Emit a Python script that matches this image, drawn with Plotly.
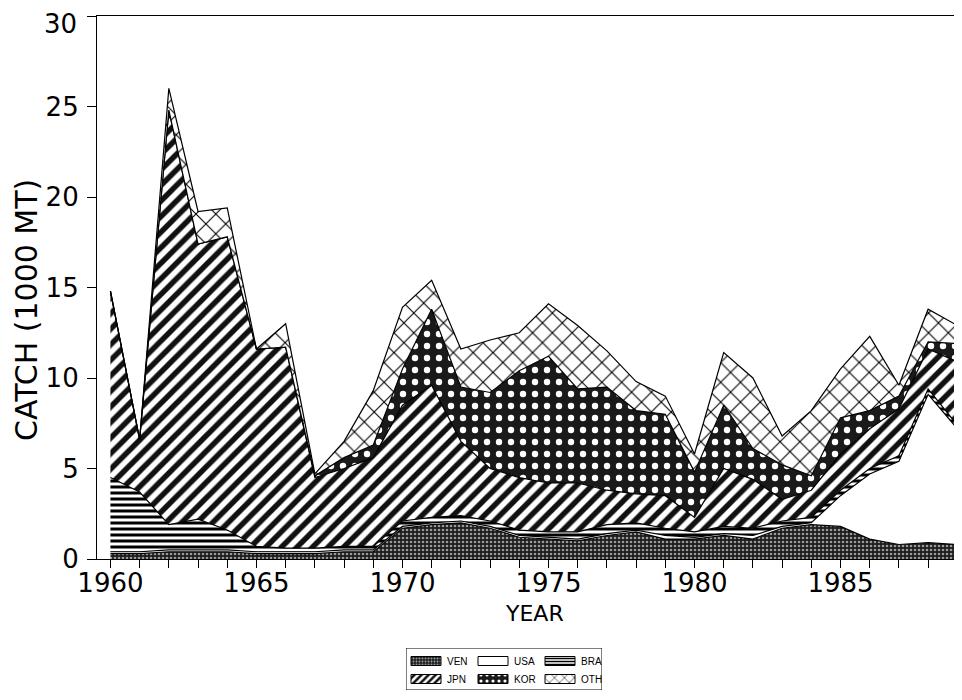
import plotly.graph_objects as go

years = list(range(1960, 1990))
x_ticks = [1960, 1965, 1970, 1975, 1980, 1985]
y_ticks = [0, 5, 10, 15, 20, 25, 30]
y_tick_labels = ["0", "5", "10", "15", "20", "25", "30"]

ven = [0.3, 0.3, 0.4, 0.4, 0.4, 0.3, 0.3, 0.3, 0.4, 0.4,
       1.7, 1.9, 2.0, 1.7, 1.2, 1.1, 1.0, 1.3, 1.5, 1.1,
       1.1, 1.3, 1.1, 1.7, 1.9, 1.8, 1.1, 0.8, 0.9, 0.8]
usa = [0.1, 0.1, 0.1, 0.1, 0.1, 0.1, 0.1, 0.1, 0.1, 0.1,
       0.1, 0.1, 0.1, 0.1, 0.1, 0.1, 0.1, 0.1, 0.1, 0.2,
       0.1, 0.1, 0.2, 0.1, 0.1, 1.7, 3.6, 4.6, 8.2, 6.4]
bra = [4.1, 3.3, 1.4, 1.7, 1.1, 0.3, 0.2, 0.2, 0.2, 0.2,
       0.3, 0.3, 0.3, 0.3, 0.3, 0.3, 0.4, 0.5, 0.4, 0.4,
       0.3, 0.4, 0.4, 0.3, 0.3, 0.3, 0.3, 0.3, 0.3, 0.2]
jpn = [10.3, 2.9, 22.9, 15.2, 16.2, 10.9, 11.1, 3.9, 4.3, 4.9,
       6.4, 7.3, 4.1, 2.9, 2.9, 2.7, 2.7, 1.9, 1.6, 1.8,
       0.8, 3.2, 2.7, 1.2, 1.5, 2.0, 2.2, 2.6, 2.2, 3.5]
kor = [0.0, 0.0, 0.0, 0.0, 0.0, 0.0, 0.0, 0.1, 0.6, 0.7,
       2.0, 4.2, 3.0, 4.2, 5.9, 7.0, 5.2, 5.7, 4.6, 4.5,
       2.5, 3.5, 1.7, 1.9, 0.8, 2.0, 1.0, 0.7, 0.4, 1.0]
oth = [0.0, 0.0, 1.2, 1.8, 1.6, 0.0, 1.3, 0.1, 0.9, 3.0,
       3.4, 1.6, 2.1, 2.9, 2.1, 2.9, 3.5, 2.0, 1.6, 1.0,
       1.0, 2.9, 3.9, 1.6, 3.6, 2.7, 4.1, 0.6, 1.8, 1.0]

series_names = ["VEN", "USA", "BRA", "JPN", "KOR", "OTH"]
series_vals = [ven, usa, bra, jpn, kor, oth]

patterns = {
    "VEN": dict(shape=".", bgcolor="#1c1c1c", fgcolor="#9a9a9a", size=4, solidity=0.35, fillmode="replace"),
    "USA": None,
    "BRA": dict(shape="-", bgcolor="white", fgcolor="black", size=6, solidity=0.5, fillmode="replace"),
    "JPN": dict(shape="/", bgcolor="white", fgcolor="#111111", size=11, solidity=0.5, fillmode="replace"),
    "KOR": dict(shape=".", bgcolor="#1a1a1a", fgcolor="white", size=12, solidity=0.22, fillmode="replace"),
    "OTH": dict(shape="x", bgcolor="white", fgcolor="black", size=14, solidity=0.15, fillmode="replace"),
}


def fill_kw(name, small=False):
    p = patterns[name]
    if p is None:
        return dict(fillcolor="white")
    p = dict(p)
    if small:
        p["size"] = max(3, int(p["size"] * 0.5))
    return dict(fillcolor=p["bgcolor"], fillpattern=p)


# page-pixel helpers (page has an 8px body margin; plot area 97..962 x 16..559)
def px(x):
    return (x - 97) / 865


def py(y):
    return (700 - y) / 684


fig = go.Figure()
for name, vals in zip(series_names, series_vals):
    fig.add_trace(go.Scatter(
        x=years, y=vals, name=name, mode="lines", stackgroup="one",
        line=dict(color="black", width=1.2, shape="linear"),
        showlegend=False, hoverinfo="x+y+name", **fill_kw(name)))

# closing vertical edge at the last year
total = [sum(v) for v in zip(*series_vals)]
fig.add_trace(go.Scatter(x=[years[-1], years[-1]], y=[0, total[-1]], mode="lines",
                         line=dict(color="black", width=1.2), showlegend=False,
                         hoverinfo="skip"))

# key drawn on its own small axes (coordinates = page pixels)
KEY_X0, KEY_X1, KEY_Y0, KEY_Y1 = 406, 602, 648, 690
col_x = [411, 478, 545]
row_y = [661, 679]
annos = []
for i, name in enumerate(series_names):
    r, c = divmod(i, 3)
    x0, x1 = col_x[c], col_x[c] + 30
    y0, y1 = row_y[r] - 4.5, row_y[r] + 4.5
    fig.add_trace(go.Scatter(
        x=[x0, x1, x1, x0, x0], y=[y0, y0, y1, y1, y0], mode="lines",
        fill="toself", line=dict(color="black", width=1), xaxis="x2", yaxis="y2",
        showlegend=False, hoverinfo="skip", name=name, **fill_kw(name, small=True)))
    annos.append(dict(text=name, x=x1 + 4, y=row_y[r], xref="x2", yref="y2",
                      xanchor="left", yanchor="middle", showarrow=False,
                      font=dict(family="Liberation Sans", size=10, color="black")))

FONT = "DejaVu Sans"
# the top tick label would poke above the page; draw it as a text just inside the top edge
y_text = y_tick_labels[:-1] + [""]
annos.append(dict(text=y_tick_labels[-1], x=px(78), y=py(8), xref="paper", yref="paper",
                  xanchor="right", yanchor="top", showarrow=False, borderpad=0,
                  font=dict(family=FONT, size=26, color="black")))

fig.update_layout(
    width=962, height=700,
    margin=dict(l=89, r=8, t=8, b=8, autoexpand=False),
    paper_bgcolor="white", plot_bgcolor="white",
    showlegend=False,
    xaxis=dict(
        domain=[0, 1],
        range=[1959.54, 1989.16], tickmode="array", tickvals=x_ticks,
        ticktext=[str(v) for v in x_ticks],
        ticks="outside", ticklen=8, tickcolor="black", tickwidth=1,
        minor=dict(dtick=1, tick0=1960, ticks="outside", ticklen=8, tickcolor="black", tickwidth=1, showgrid=False),
        showline=True, linecolor="black", linewidth=1.2, mirror=True,
        showgrid=False, zeroline=False,
        tickfont=dict(family=FONT, size=26, color="black"),
        ticklabelstandoff=-7, ticklabeloverflow="allow",
    ),
    yaxis=dict(
        domain=[py(559), 1],
        range=[0, 30], tickmode="array", tickvals=y_ticks, ticktext=y_text,
        ticks="outside", ticklen=9, tickcolor="black", tickwidth=1,
        showline=True, linecolor="black", linewidth=1.2,
        showgrid=False, zeroline=False,
        tickfont=dict(family=FONT, size=26, color="black"),
        ticklabelstandoff=3, ticklabeloverflow="allow",
    ),
    xaxis2=dict(domain=[px(KEY_X0), px(KEY_X1)], range=[KEY_X0, KEY_X1], visible=False,
                anchor="y2", fixedrange=True),
    yaxis2=dict(domain=[py(KEY_Y1), py(KEY_Y0)], range=[KEY_Y1, KEY_Y0], visible=False,
                anchor="x2", fixedrange=True),
    annotations=[
        dict(text="YEAR", x=px(534), y=py(613), xref="paper", yref="paper",
             xanchor="center", yanchor="middle", showarrow=False,
             font=dict(family=FONT, size=22, color="black")),
        dict(text="CATCH (1000 MT)", x=px(26), y=py(310),
             xref="paper", yref="paper",
             showarrow=False, textangle=-90, xanchor="center", yanchor="middle",
             font=dict(family=FONT, size=30, color="black")),
    ] + annos,
    shapes=[
        dict(type="rect", xref="x2", yref="y2",
             x0=KEY_X0, x1=KEY_X1, y0=KEY_Y0, y1=KEY_Y1,
             line=dict(color="black", width=1), fillcolor="rgba(0,0,0,0)"),
    ],
)

fig.write_html("out.html")
